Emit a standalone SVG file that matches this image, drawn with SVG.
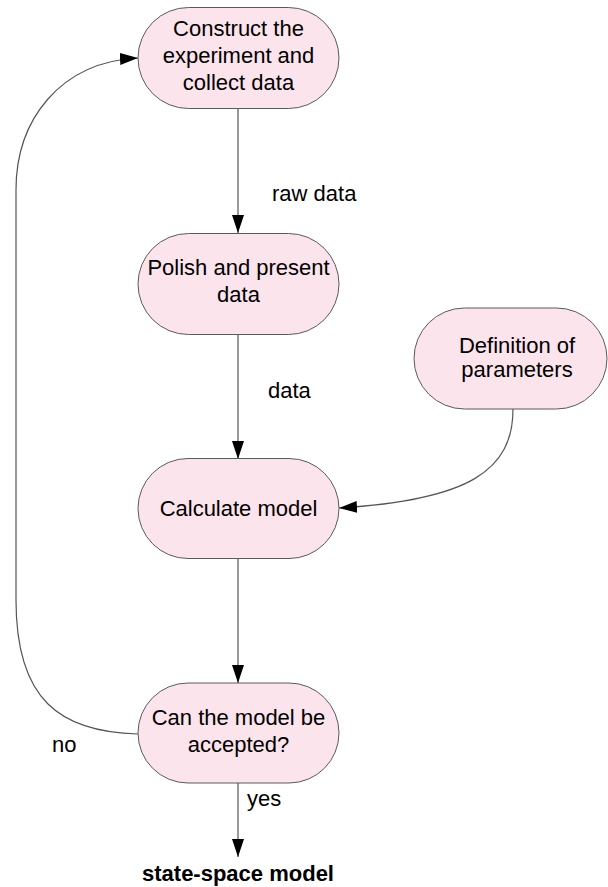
<svg xmlns="http://www.w3.org/2000/svg" width="608" height="887" viewBox="0 0 608 887">
<style>
.node rect{fill:#fce4ec;stroke:#5a5a5a;stroke-width:1}
text{font-family:"Liberation Sans",Arial,sans-serif;font-size:22px;fill:#000}
.c{text-anchor:middle}
.edge{fill:none;stroke:#555;stroke-width:1.2}
</style>
<defs>
<marker id="ah" markerUnits="userSpaceOnUse" markerWidth="20" markerHeight="14" refX="18" refY="6" orient="auto">
<path d="M0,0 L18,6 L0,12 Z" fill="#000"/>
</marker>
</defs>
<rect width="608" height="887" fill="#fff"/>
<g id="connectors">
<path class="edge" d="M238,108 V233" marker-end="url(#ah)"/>
<path class="edge" d="M238,334 V459" marker-end="url(#ah)"/>
<path class="edge" d="M238,558 V683" marker-end="url(#ah)"/>
<path class="edge" d="M238,783 V857" marker-end="url(#ah)"/>
<path class="edge" d="M513,409 C513,470 470,500 339,508" marker-end="url(#ah)"/>
<path class="edge" d="M138,734 C60,732 16,700 16,600 L16,190 C16,120 60,62 138,58" marker-end="url(#ah)"/>
<text x="272" y="201">raw data</text>
<text x="268" y="398">data</text>
<text x="247" y="806">yes</text>
<text x="52" y="752">no</text>
<text class="c" x="238" y="881" font-weight="bold">state-space model</text>
</g>
<g id="n1" class="node">
<rect x="138" y="7.5" width="201" height="101" rx="50.5"/>
<text class="c" x="238.5" y="36">Construct the</text>
<text class="c" x="238.5" y="63">experiment and</text>
<text class="c" x="238.5" y="90">collect data</text>
</g>
<g id="n2" class="node">
<rect x="138" y="233.5" width="201" height="101" rx="50.5"/>
<text class="c" x="238.5" y="275">Polish and present</text>
<text class="c" x="238.5" y="302">data</text>
</g>
<g id="n5" class="node">
<rect x="414" y="308" width="193" height="101" rx="50.5"/>
<text class="c" x="517" y="353">Definition of</text>
<text class="c" x="517" y="377">parameters</text>
</g>
<g id="n3" class="node">
<rect x="138" y="458.5" width="201" height="100" rx="50"/>
<text class="c" x="238.5" y="516">Calculate model</text>
</g>
<g id="n4" class="node">
<rect x="138" y="683" width="201" height="100" rx="50"/>
<text class="c" x="238.5" y="725">Can the model be</text>
<text class="c" x="238.5" y="752">accepted?</text>
</g>
</svg>
